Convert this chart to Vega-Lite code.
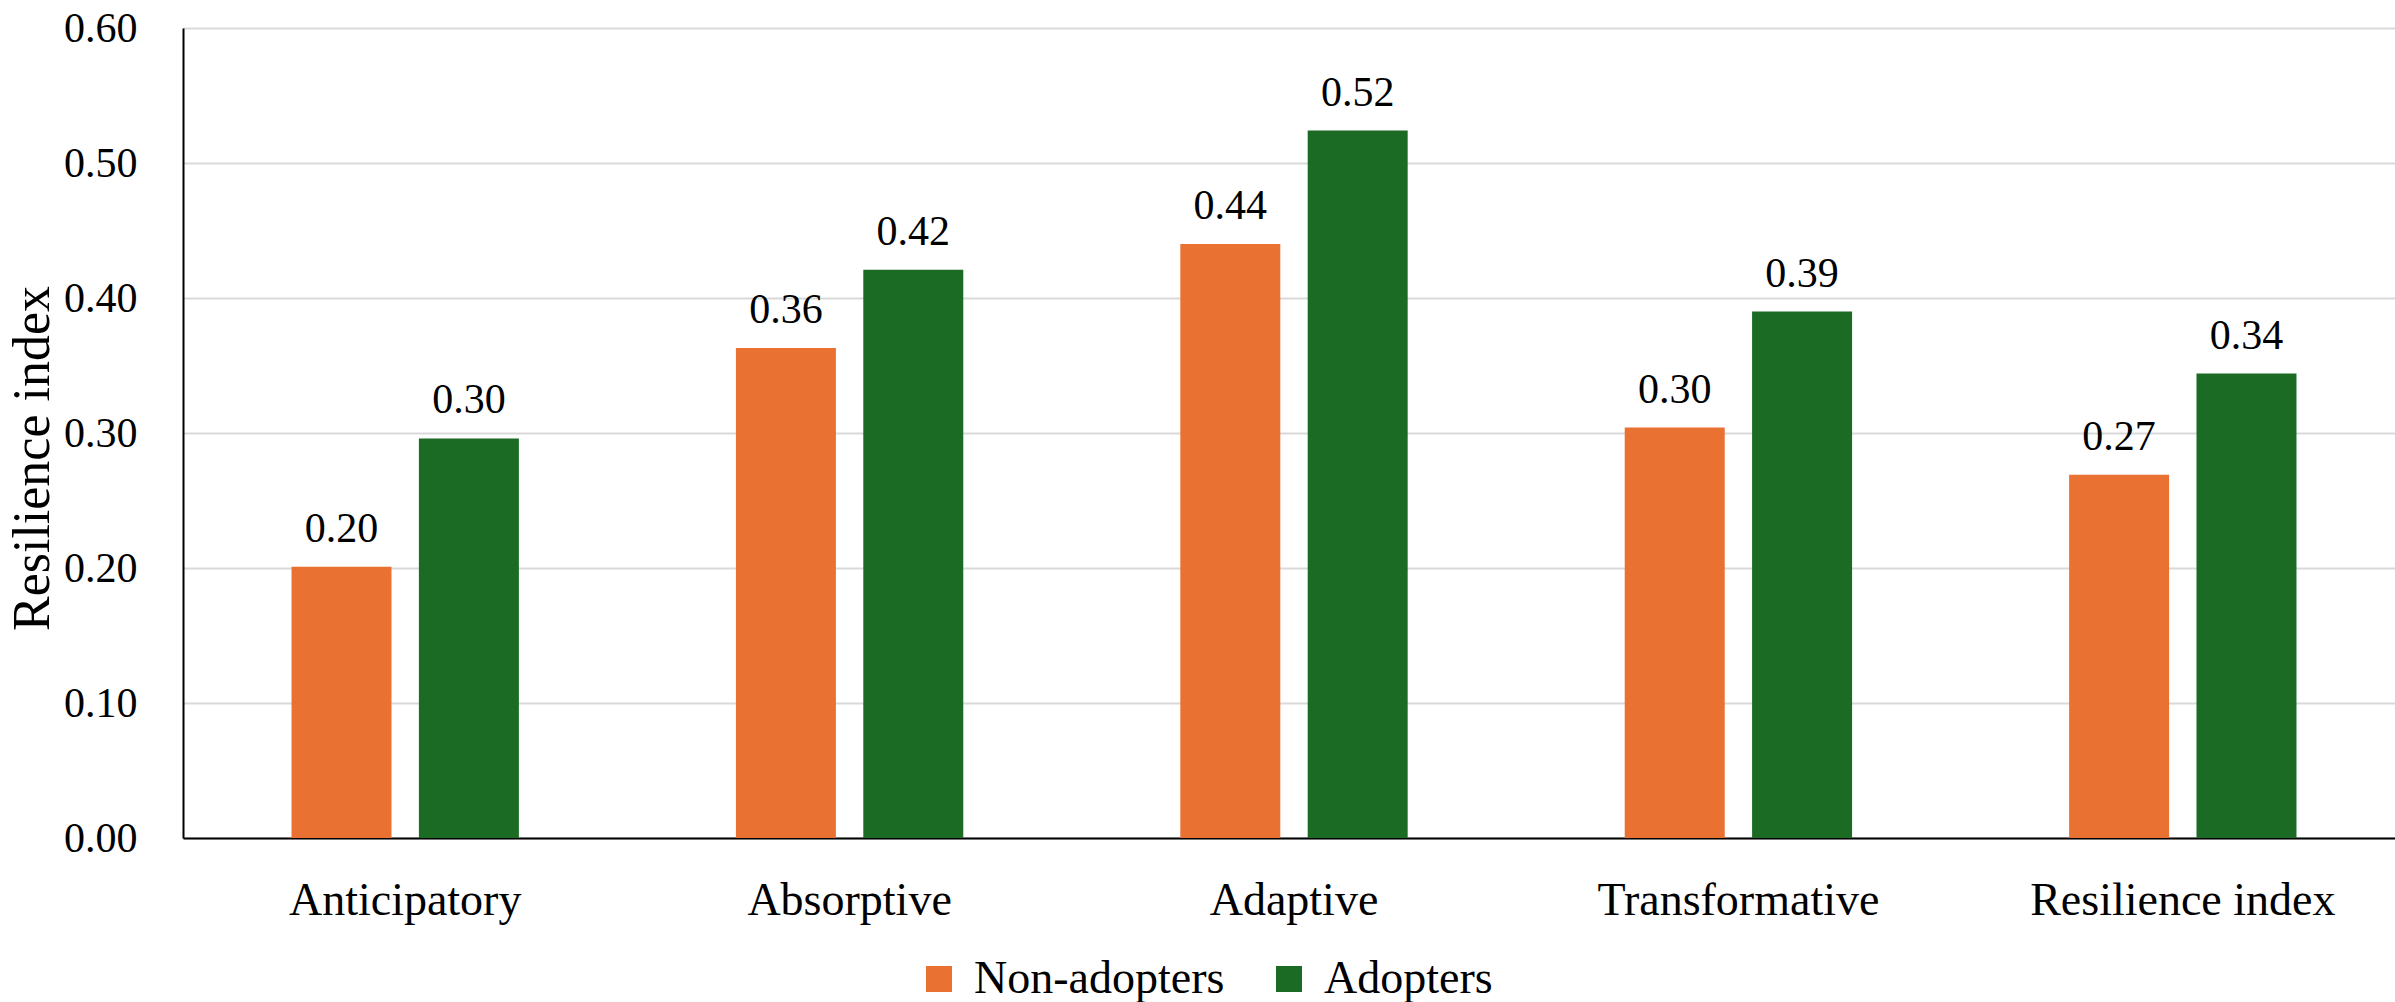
{
  "$schema": "https://vega.github.io/schema/vega-lite/v6.json",
  "autosize": {"type": "none"},
  "padding": {"left": 183, "top": 28, "right": 0, "bottom": 164},
  "width": 2212,
  "height": 810,
  "background": "white",
  "config": {
    "view": {"stroke": null},
    "font": "Liberation Serif, serif",
    "text": {"font": "Liberation Serif, serif"},
    "axis": {"labelFont": "Liberation Serif, serif", "titleFont": "Liberation Serif, serif"},
    "legend": {"labelFont": "Liberation Serif, serif", "titleFont": "Liberation Serif, serif"}
  },
  "data": {
    "values": [
      {"dimension": "Anticipatory", "group": "Non-adopters", "value": 0.201},
      {"dimension": "Anticipatory", "group": "Adopters", "value": 0.296},
      {"dimension": "Absorptive", "group": "Non-adopters", "value": 0.363},
      {"dimension": "Absorptive", "group": "Adopters", "value": 0.421},
      {"dimension": "Adaptive", "group": "Non-adopters", "value": 0.44},
      {"dimension": "Adaptive", "group": "Adopters", "value": 0.524},
      {"dimension": "Transformative", "group": "Non-adopters", "value": 0.304},
      {"dimension": "Transformative", "group": "Adopters", "value": 0.39},
      {"dimension": "Resilience index", "group": "Non-adopters", "value": 0.269},
      {"dimension": "Resilience index", "group": "Adopters", "value": 0.344}
    ]
  },
  "encoding": {
    "x": {
      "field": "dimension",
      "type": "nominal",
      "sort": ["Anticipatory", "Absorptive", "Adaptive", "Transformative", "Resilience index"],
      "scale": {"paddingInner": 0, "paddingOuter": 0, "range": [0, 2222]},
      "axis": {
        "title": null,
        "labelAngle": 0,
        "labelFont": "Liberation Serif, serif",
        "labelFontSize": 46,
        "labelColor": "black",
        "labelPadding": 40,
        "labelLimit": 0,
        "ticks": false,
        "tickSize": 0,
        "domainColor": "black",
        "domainWidth": 2,
        "grid": false
      }
    },
    "xOffset": {
      "field": "group",
      "type": "nominal",
      "sort": ["Non-adopters", "Adopters"],
      "scale": {"paddingInner": 0.215, "paddingOuter": 0.852}
    },
    "y": {
      "field": "value",
      "type": "quantitative",
      "scale": {"domain": [0, 0.6], "nice": false},
      "axis": {
        "title": "Resilience index",
        "titleFont": "Liberation Serif, serif",
        "titleFontSize": 52,
        "titleFontWeight": "normal",
        "titleColor": "black",
        "titlePadding": 4,
        "titleY": 430,
        "values": [0, 0.1, 0.2, 0.3, 0.4, 0.5, 0.6],
        "format": ".2f",
        "labelFont": "Liberation Serif, serif",
        "labelFontSize": 42,
        "labelColor": "black",
        "labelPadding": 46,
        "ticks": false,
        "tickSize": 0,
        "domainColor": "black",
        "domainWidth": 2,
        "gridColor": "#d9d9d9",
        "gridWidth": 2
      }
    }
  },
  "layer": [
    {
      "mark": {"type": "bar"},
      "encoding": {
        "color": {
          "field": "group",
          "type": "nominal",
          "sort": ["Non-adopters", "Adopters"],
          "scale": {"domain": ["Non-adopters", "Adopters"], "range": ["#E97132", "#1B6B24"]},
          "legend": {
            "title": null,
            "orient": "none",
            "direction": "horizontal",
            "legendX": 733,
            "legendY": 928,
            "symbolType": "square",
            "symbolSize": 676,
            "symbolStrokeWidth": 0,
            "labelFont": "Liberation Serif, serif",
            "labelFontSize": 46,
            "labelColor": "black",
            "labelOffset": 12,
            "labelLimit": 0,
            "columnPadding": 41
          }
        }
      }
    },
    {
      "mark": {"type": "text", "baseline": "alphabetic", "dy": -25, "font": "Liberation Serif, serif", "fontSize": 42, "color": "black"},
      "encoding": {
        "text": {"field": "value", "type": "quantitative", "format": ".2f"}
      }
    }
  ]
}
